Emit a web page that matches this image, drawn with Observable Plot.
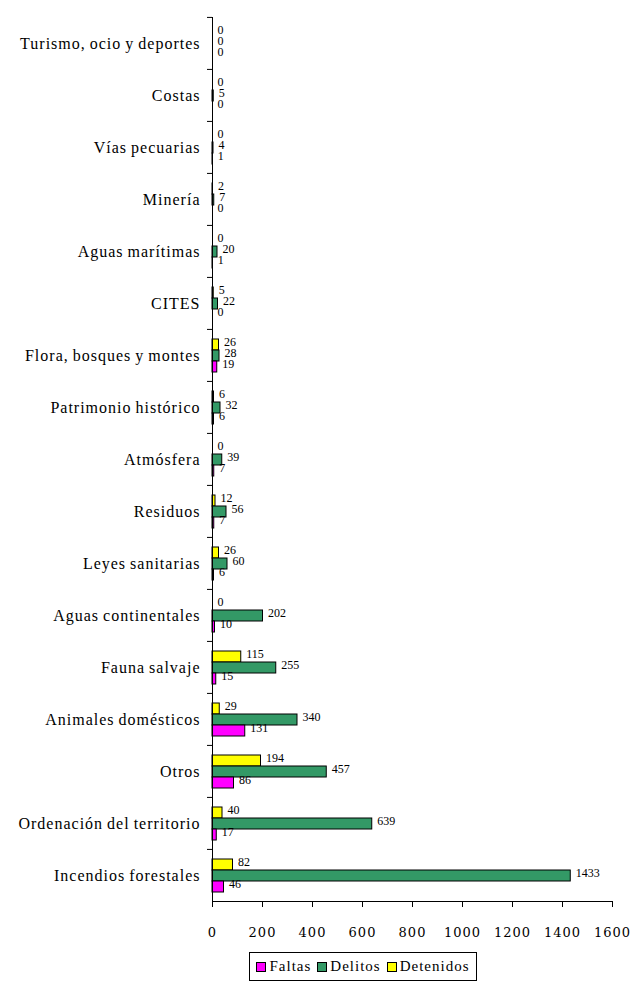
<!DOCTYPE html>
<html><head><meta charset="utf-8">
<script src="https://cdn.jsdelivr.net/npm/d3@7"></script>
<script src="https://cdn.jsdelivr.net/npm/@observablehq/plot@0.6"></script>
<style>
body{margin:0;background:#fff;}
#chart{position:relative;width:632px;height:983px;overflow:hidden;}
#legend{position:absolute;left:249px;top:952px;width:228px;height:29px;border:1px solid #000;display:flex;align-items:center;justify-content:center;font-family:"Liberation Serif","Times New Roman",serif;font-size:15px;letter-spacing:1px;color:#000;box-sizing:border-box;}
#legend .it{display:flex;align-items:center;margin:0 3px;}
#legend .sw{display:inline-block;width:8px;height:8px;border:1px solid #000;margin-right:3px;}
svg [aria-label="fy-axis tick label"] text{letter-spacing:1px;word-spacing:-1px;}
svg [aria-label="x-axis tick label"] text{letter-spacing:1px;}
</style></head>
<body><div id="chart"><div id="legend"></div></div>
<script>
const categories = [
  "Turismo, ocio y deportes","Costas","Vías pecuarias","Minería","Aguas marítimas","CITES",
  "Flora, bosques y montes","Patrimonio histórico","Atmósfera","Residuos","Leyes sanitarias",
  "Aguas continentales","Fauna salvaje","Animales domésticos","Otros","Ordenación del territorio",
  "Incendios forestales"
];
const series = ["Detenidos","Delitos","Faltas"];
const detenidos = [0,0,0,2,0,5,26,6,0,12,26,0,115,29,194,40,82];
const delitos   = [0,5,4,7,20,22,28,32,39,56,60,202,255,340,457,639,1433];
const faltas    = [0,0,1,0,1,0,19,6,7,7,6,10,15,131,86,17,46];
const colors = ["#FFFF00","#339966","#FF00FF"];
const legendOrder = ["Faltas","Delitos","Detenidos"];
const xTicks = [0,200,400,600,800,1000,1200,1400,1600];

const values = {Detenidos: detenidos, Delitos: delitos, Faltas: faltas};
const data = categories.flatMap((c, i) => series.map(s => ({cat: c, serie: s, value: values[s][i]})));

const H = 948, MT = 15, MB = 46;
const bw = (H - MT - MB) / categories.length;

const plot = Plot.plot({
  width: 632, height: H,
  marginLeft: 212, marginRight: 20, marginTop: MT, marginBottom: MB,
  style: {fontFamily: "'Liberation Serif', 'Times New Roman', serif", background: "#fff", color: "#000"},
  fy: {domain: categories, padding: 0, label: null},
  y: {domain: series, paddingInner: 0, paddingOuter: 0.72, axis: null},
  x: {domain: [0, 1600]},
  color: {domain: series, range: colors},
  marks: [
    Plot.barX(data, {fy: "cat", y: "serie", x: "value", fill: "serie", stroke: "#000", strokeWidth: 1}),
    Plot.text(data, {fy: "cat", y: "serie", x: "value", text: d => String(d.value), textAnchor: "start", dx: 5, dy: -3, fontSize: 12, fill: "#000"}),
    Plot.ruleX([0], {stroke: "#000"}),
    Plot.axisFy({anchor: "left", tickSize: 5, tickFormat: () => "", dy: -bw / 2, label: null}),
    Plot.axisFy({anchor: "left", tickSize: 0, tickPadding: 12, fontSize: 16, label: null}),
    Plot.axisX({ticks: xTicks, tickFormat: d => String(d), tickSize: 6, tickPadding: 20, fontSize: 13, fontFamily: "DejaVu Serif", label: null}),
    Plot.frame({anchor: "bottom", facetAnchor: "bottom", stroke: "#000"})
  ]
});
document.getElementById("chart").prepend(plot);

const legend = document.getElementById("legend");
legendOrder.forEach(s => {
  const it = document.createElement("span");
  it.className = "it";
  const sw = document.createElement("span");
  sw.className = "sw";
  sw.style.background = colors[series.indexOf(s)];
  it.appendChild(sw);
  it.appendChild(document.createTextNode(s));
  legend.appendChild(it);
});
</script>
</body></html>
